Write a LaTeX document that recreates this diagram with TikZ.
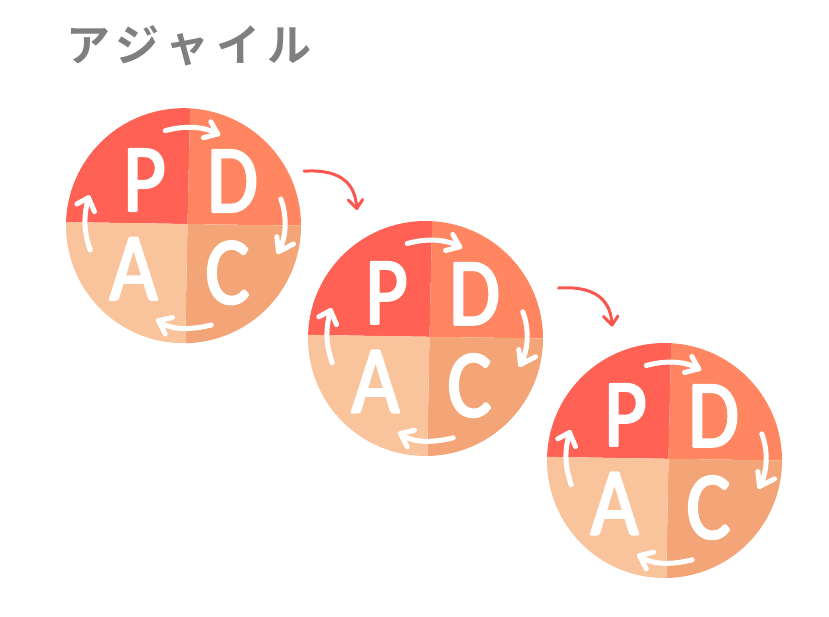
\documentclass[tikz,border=0pt]{standalone}
\usepackage{fontspec}
\usetikzlibrary{calc,arrows.meta}
\newfontfamily\titlefont[LetterSpace=17]{Noto Sans CJK JP Bold}
\newfontfamily\letterfont[FakeBold=2.6,FakeStretch=0.86]{Carlito}
\definecolor{quadP}{HTML}{FF6155}
\definecolor{quadD}{HTML}{FF8661}
\definecolor{quadC}{HTML}{F4A577}
\definecolor{quadA}{HTML}{F9C49C}
\definecolor{linkred}{HTML}{F9564F}
\definecolor{titlegray}{HTML}{7F7F7F}
\newcommand{\roundtext}{\special{pdf:code 1 j 1 J}}
\tikzset{
  cyclearrow/.style={draw=white,line width=5pt,line cap=round,line join=round},
  linkarrow/.style={draw=linkred,line width=3pt,line cap=round,line join=round},
  letter/.style={text=white,inner sep=0pt,font=\letterfont\fontsize{96}{96}\selectfont},
  disc/.style={circle,minimum size=235pt,inner sep=0pt},
  pdca/.pic={
    \begin{scope}
      \clip (0,0) circle (117.5);
      \fill[quadP] (4,1.7) -- (6.7,120) -- (-120,120) -- (-120,3.7) -- cycle;
      \fill[quadD] (4,1.7) -- (6.7,120) -- (120,120) -- (120,0) -- cycle;
      \fill[quadC] (4,1.7) -- (120,0) -- (120,-120) -- (1.7,-120) -- cycle;
      \fill[quadA] (4,1.7) -- (1.7,-120) -- (-120,-120) -- (-120,3.7) -- cycle;
    \end{scope}
    \node[disc] (-disc) at (0,0) {};
    \node[letter] (-P) at (-39,45.7) {\roundtext P};
    \node[letter] (-D) at (49,44.7) {\roundtext D};
    \node[letter] (-A) at (-50,-43) {\roundtext A};
    \node[letter] (-C) at (44,-47) {\roundtext C};
    \draw[cyclearrow] (-18.3,95) .. controls (0,100) and (20,100) .. (34.3,91.7);
    \draw[cyclearrow] (27.3,104) -- (34.3,91.7) -- (20,88);
    \draw[cyclearrow] (97.3,26.7) .. controls (103,12) and (104,-10) .. (95,-26);
    \draw[cyclearrow] (93.3,-11) -- (95,-26) -- (110,-18.3);
    \draw[cyclearrow] (27.7,-99.3) .. controls (5,-105) and (-15,-104) .. (-25,-95);
    \draw[cyclearrow] (-11,-91.7) -- (-25,-95) -- (-18.3,-108.3);
    \draw[cyclearrow] (-93.3,-24.3) .. controls (-100,-5) and (-100,10) .. (-95,28);
    \draw[cyclearrow] (-106.7,21.7) -- (-95,28) -- (-89,14);
  }
}
\begin{document}
\begin{tikzpicture}[x=1pt,y=1pt]
  \useasboundingbox (0,0) rectangle (829,-616);
  \node[text=titlegray,inner sep=0pt,font=\titlefont\fontsize{44}{44}\selectfont] (title) at (189,-46) {アジャイル};
  \pic (a) at (183.5,-225.7) {pdca};
  \pic (b) at (425.5,-338.5) {pdca};
  \pic (c) at (664.5,-460.5) {pdca};
  \coordinate (s1) at ($(a-disc.center)+(120.5,54.5)$);
  \coordinate (e1) at ($(b-disc.center)+(-68.8,130)$);
  \coordinate (s2) at ($(b-disc.center)+(133,50.5)$);
  \coordinate (e2) at ($(c-disc.center)+(-52.5,135.5)$);
  \draw[linkarrow] (s1) .. controls ($(s1)+(30,2)$) and ($(e1)+(-1,30)$) .. (e1);
  \draw[linkarrow] ($(e1)+(-8.5,8.5)$) -- (e1) -- ($(e1)+(6,9)$);
  \draw[linkarrow] (s2) .. controls ($(s2)+(30,2)$) and ($(e2)+(-1,30)$) .. (e2);
  \draw[linkarrow] ($(e2)+(-8.5,8.5)$) -- (e2) -- ($(e2)+(6,9)$);
\end{tikzpicture}
\end{document}
